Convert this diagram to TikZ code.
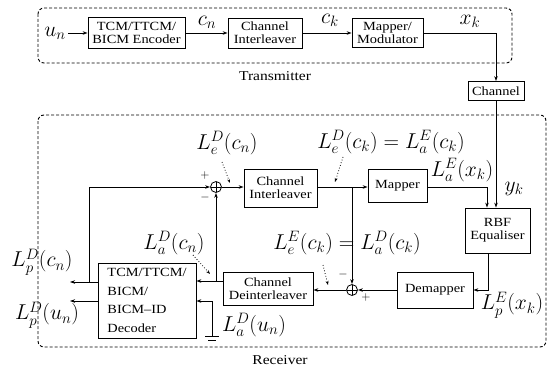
\RequirePackage{fix-cm}
\documentclass[tikz,border=0pt]{standalone}
\usepackage{fontspec}
\newfontfamily\boxfont[FakeStretch=1.15]{Liberation Serif}
\usetikzlibrary{arrows.meta}
\begin{document}
\begin{tikzpicture}[x=1pt,y=-1pt,
  blk/.style={draw,line width=0.8pt,inner sep=0pt,align=center,font=\boxfont\fontsize{12.5}{13}\selectfont},
  sumn/.style={draw,circle,line width=0.8pt,minimum size=11pt,inner sep=0pt,
     path picture={\draw[line width=0.8pt] (path picture bounding box.north) -- (path picture bounding box.south) (path picture bounding box.west) -- (path picture bounding box.east);}},
  ml/.style={inner sep=0pt,font=\fontsize{21.5}{24}\selectfont},
  sg/.style={inner sep=0pt,font=\fontsize{12}{13}\selectfont},
  lbl/.style={inner sep=0pt,font=\boxfont\fontsize{13.5}{15}\selectfont},
  ln/.style={line width=0.8pt},
  arr/.style={line width=0.8pt,-{Stealth[length=5pt,width=3.5pt]}},
  dotarr/.style={line width=0.8pt,dotted,-{Stealth[length=4pt,width=3pt]}},
  dbox/.style={line width=0.9pt,dash pattern=on 3pt off 2pt,rounded corners=6pt}]
\useasboundingbox (0,0) rectangle (548,369);
% dashed frames
\draw[dbox] (38,8) rectangle (512,63);
\draw[dbox] (38,115) rectangle (546,347);
\node[lbl] (tlab) at (275,76) {Transmitter};
\node[lbl] (rlab) at (280,360) {Receiver};
% transmitter
\node[blk,minimum width=97pt,minimum height=31pt] (enc) at (136.5,33) {TCM/TTCM/\\BICM Encoder};
\node[blk,minimum width=74pt,minimum height=30pt] (txil) at (265,33) {Channel\\Interleaver};
\node[blk,minimum width=71pt,minimum height=29pt] (mod) at (387.5,33) {Mapper/\\Modulator};
\node[blk,minimum width=56pt,minimum height=19pt] (chan) at (496,91) {Channel};
\coordinate (uin) at (68,33);
\node[ml] (un) at (55,33) {$u_n$};
\draw[arr] (uin) -- (enc);
\draw[arr] (enc) -- (txil);
\node[ml] (cn) at (207,22) {$c_n$};
\draw[arr] (txil) -- (mod);
\node[ml] (ck) at (330,20) {$c_k$};
\coordinate (xc) at (496,33);
\draw[arr] (mod) -- (xc) -- (chan);
\node[ml] (xk) at (470,21) {$x_k$};
% receiver blocks
\node[blk,minimum width=65pt,minimum height=45pt] (rbf) at (497.5,230.5) {RBF\\Equaliser};
\node[blk,minimum width=59pt,minimum height=33pt] (rmap) at (397.5,186) {Mapper};
\node[blk,minimum width=73pt,minimum height=38pt] (ril) at (280.5,188) {Channel\\Interleaver};
\node[sumn] (s1) at (216,187) {};
\node[blk,minimum width=90pt,minimum height=33pt] (deil) at (268,288.5) {Channel\\Deinterleaver};
\node[sumn] (s2) at (352,290) {};
\node[blk,minimum width=76pt,minimum height=36pt] (demap) at (435,290) {Demapper};
\node[blk,minimum width=98pt,minimum height=75pt,align=left,font=\boxfont\fontsize{12.5}{18.5}\selectfont] (dec) at (147,300.5) {TCM/TTCM/\\BICM/\\BICM–ID\\Decoder};
% channel to RBF
\draw[arr] (chan.south) -- (rbf.north -| chan.south);
\node[ml] (yk) at (514,189) {$y_k$};
% interleaver row
\draw[arr] (s1) -- (s1 -| ril.west);
\coordinate (j1) at (352,187);
\draw[arr] (ril.east |- j1) -- (rmap.west |- j1);
\draw[arr] (j1) -- (s2);
\coordinate (mo) at (487,187);
\draw[arr] (rmap.east |- mo) -- (mo) -- (mo |- rbf.north);
\node[ml] (lax) at (462,170) {$L_a^E(x_k)$};
% RBF to demapper
\coordinate (ro) at (488,290);
\draw[arr] (ro |- rbf.south) -- (ro) -- (demap.east |- ro);
\node[ml] (lpx) at (512,305) {$L_p^E(x_k)$};
\draw[arr] (demap.west |- s2) -- (s2);
\draw[arr] (s2) -- (s2 -| deil.east);
% deinterleaver to decoder
\coordinate (dout) at (223,281);
\coordinate (j2) at (216,281);
\draw[arr] (dout) -- (dec.east |- dout);
\draw[arr] (j2) -- (s1);
% ground input
\coordinate (g) at (212,301);
\coordinate (gb) at (212,336);
\draw[arr] (gb) -- (g) -- (dec.east |- g);
\draw[ln] (205,336) -- (219,336);
\draw[ln] (208,340.5) -- (216,340.5);
\node[ml] (lau) at (254,325) {$L_a^D(u_n)$};
% decoder outputs
\coordinate (o1) at (70,282);
\coordinate (o2) at (70,301);
\coordinate (fb) at (89,282);
\coordinate (fbt) at (89,187);
\draw[arr] (dec.west |- o1) -- (o1);
\draw[arr] (dec.west |- o2) -- (o2);
\draw[arr] (fb) -- (fbt) -- (s1);
\node[ml] (lpc) at (42,262) {$L_p^D(c_n)$};
\node[ml] (lpu) at (47,315) {$L_p^D(u_n)$};
% signs
\node[sg] (p1) at (205,176) {+};
\node[sg] (m1) at (205,197) {$-$};
\node[sg] (m2) at (343,274) {$-$};
\node[sg] (p2) at (366,298) {+};
% labels with dotted pointers
\node[ml] (lec) at (227,143) {$L_e^D(c_n)$};
\coordinate (d1a) at (222,162); \coordinate (d1b) at (230,183);
\draw[dotarr] (d1a) -- (d1b);
\node[ml] (leck) at (391,142) {$L_e^D(c_k) = L_a^E(c_k)$};
\coordinate (d2a) at (343,157); \coordinate (d2b) at (335,182);
\draw[dotarr] (d2a) -- (d2b);
\node[ml] (lac) at (174,243) {$L_a^D(c_n)$};
\coordinate (d3a) at (193,255); \coordinate (d3b) at (210,274);
\draw[dotarr] (d3a) -- (d3b);
\node[ml] (leeck) at (347,243) {$L_e^E(c_k) = L_a^D(c_k)$};
\coordinate (d4a) at (323,265); \coordinate (d4b) at (328,285);
\draw[dotarr] (d4a) -- (d4b);
\end{tikzpicture}
\end{document}
